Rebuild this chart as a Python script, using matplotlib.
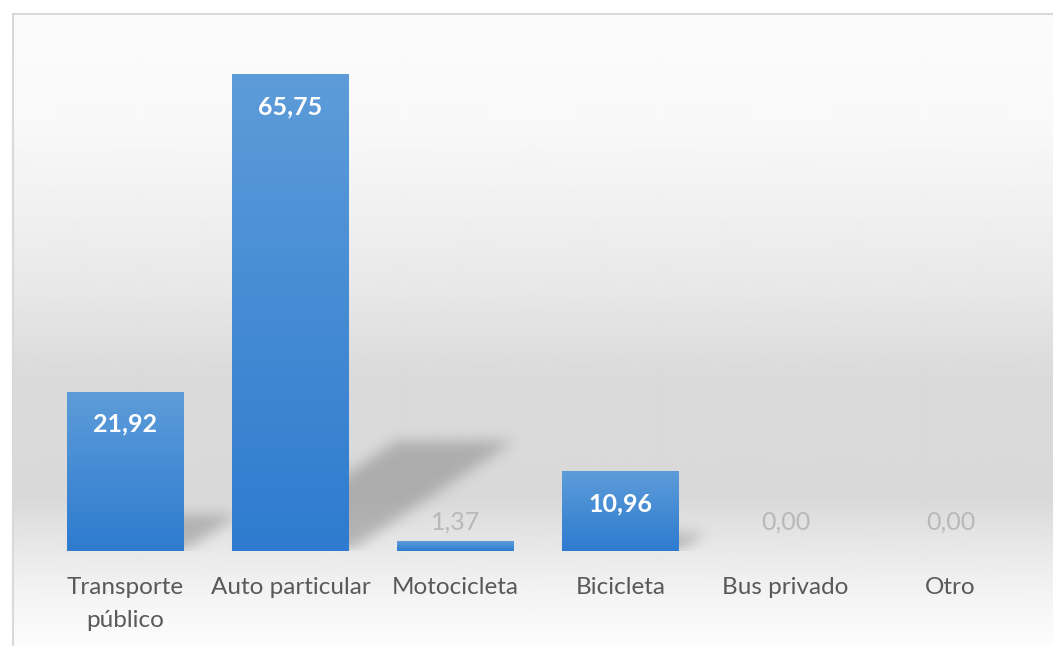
# -------------------------------------------------------------------
# plot.py
# Bar chart: medio de transporte (%) in an Excel-like style
# -------------------------------------------------------------------

import numpy as np
import matplotlib.pyplot as plt
from matplotlib.colors import LinearSegmentedColormap

plt.rcParams['font.family'] = ['Lato', 'DejaVu Sans']

# -------------------------------------------------------
# Data
# -------------------------------------------------------

categorias = ['Transporte\npúblico', 'Auto particular', 'Motocicleta',
              'Bicicleta', 'Bus privado', 'Otro']
porcentajes = [21.92, 65.75, 1.37, 10.96, 0.00, 0.00]

# -------------------------------------------------------

W_PX, H_PX = 1053, 646
fig = plt.figure(figsize=(W_PX / 100, H_PX / 100), dpi=100)

# chart area background (vertical gray gradient) with light frame
bg = fig.add_axes([13 / W_PX, 0, 1 - 13 / W_PX, 1 - 14 / H_PX])
rows = np.arange(14, H_PX)
stops_y = [14, 120, 215, 296, 377, 498, 538, 600, 646]
stops_v = [0.985, 0.975, 0.94, 0.905, 0.855, 0.85, 0.9, 0.96, 0.99]
col = np.interp(rows, stops_y, stops_v)
bg.imshow(np.repeat(col[:, None], 4, axis=1), cmap='gray', vmin=0, vmax=1,
          aspect='auto', extent=[0, 1, 0, 1], interpolation='bilinear')
bg.set_xticks([])
bg.set_yticks([])
for s in ['right', 'bottom']:
    bg.spines[s].set_visible(False)
for s in ['left', 'top']:
    bg.spines[s].set_color('#d9d9d9')
    bg.spines[s].set_linewidth(1.5)

# plot area
ymax = 70
base_px, top_px = 551, 551 - 476 / 65.75 * ymax
ax = fig.add_axes([43 / W_PX, 1 - base_px / H_PX, 990 / W_PX,
                   (base_px - top_px) / H_PX])
ax.patch.set_alpha(0)
n = len(categorias)
x = np.arange(n)
ancho = 117 / 165

# soft perspective shadows (rasterised, blurred)
Wr, Hr = 990, int(round(base_px - top_px))
xs = -0.5 + (np.arange(Wr) + 0.5) / Wr * n
ys = (np.arange(Hr) + 0.5) / Hr * ymax
mask = np.zeros((Hr, Wr))
px_x = Wr / n
px_y = Hr / ymax
for xi, v in zip(x, porcentajes):
    if v <= 0:
        continue
    hs = 0.23 * v
    dx = 0.345 * v * px_y / px_x
    for r in np.where(ys <= hs)[0]:
        t = ys[r] / hs
        left = xi - ancho / 2 + dx * t
        right = xi + ancho / 2 + dx * t
        mask[r, (xs >= left) & (xs <= right)] = 1.0


def box_blur(a, r, axis):
    a = np.swapaxes(a, 0, axis)
    p = np.pad(a, ((r + 1, r), (0, 0)), mode='constant')
    c = np.cumsum(p, axis=0)
    out = (c[2 * r + 1:] - c[:-2 * r - 1]) / (2 * r + 1)
    return np.swapaxes(out, 0, axis)


for _ in range(3):
    mask = box_blur(mask, 6, 0)
    mask = box_blur(mask, 6, 1)

sombra = np.zeros((Hr, Wr, 4))
sombra[..., :3] = 0.42
sombra[..., 3] = mask * 0.4
ax.imshow(sombra, origin='lower', extent=(-0.5, n - 0.5, 0, ymax),
          aspect='auto', zorder=1, interpolation='bilinear')

# bars with vertical blue gradient
azul = LinearSegmentedColormap.from_list('azul', ['#2e7bcf', '#5d9cd9'])
grad = np.linspace(0, 1, 256)[:, None]
for xi, v in zip(x, porcentajes):
    if v <= 0:
        continue
    ax.imshow(grad, cmap=azul, origin='lower', aspect='auto', zorder=3,
              extent=(xi - ancho / 2, xi + ancho / 2, 0, v))

# data labels
for xi, v in zip(x, porcentajes):
    txt = f'{v:.2f}'.replace('.', ',')
    if v >= 8:
        ax.annotate(txt, (xi, v), xytext=(0, -32 * 0.72),
                    textcoords='offset points', ha='center', va='center',
                    color='white', fontsize=18, fontweight='bold', zorder=5)
    else:
        ax.annotate(txt, (xi, 0), xytext=(0, 29 * 0.72),
                    textcoords='offset points', ha='center', va='center',
                    color='#b8b8b8', fontsize=18, zorder=5)

ax.set_xlim(-0.5, n - 0.5)
ax.set_ylim(0, ymax)
ax.set_xticks(x)
ax.set_xticklabels(categorias, fontsize=17.5, color='#595959', linespacing=1.75)
ax.set_yticks([])
ax.tick_params(axis='x', length=0, pad=18.5)
for s in ax.spines.values():
    s.set_visible(False)

fig.savefig('out.png', dpi=100)
